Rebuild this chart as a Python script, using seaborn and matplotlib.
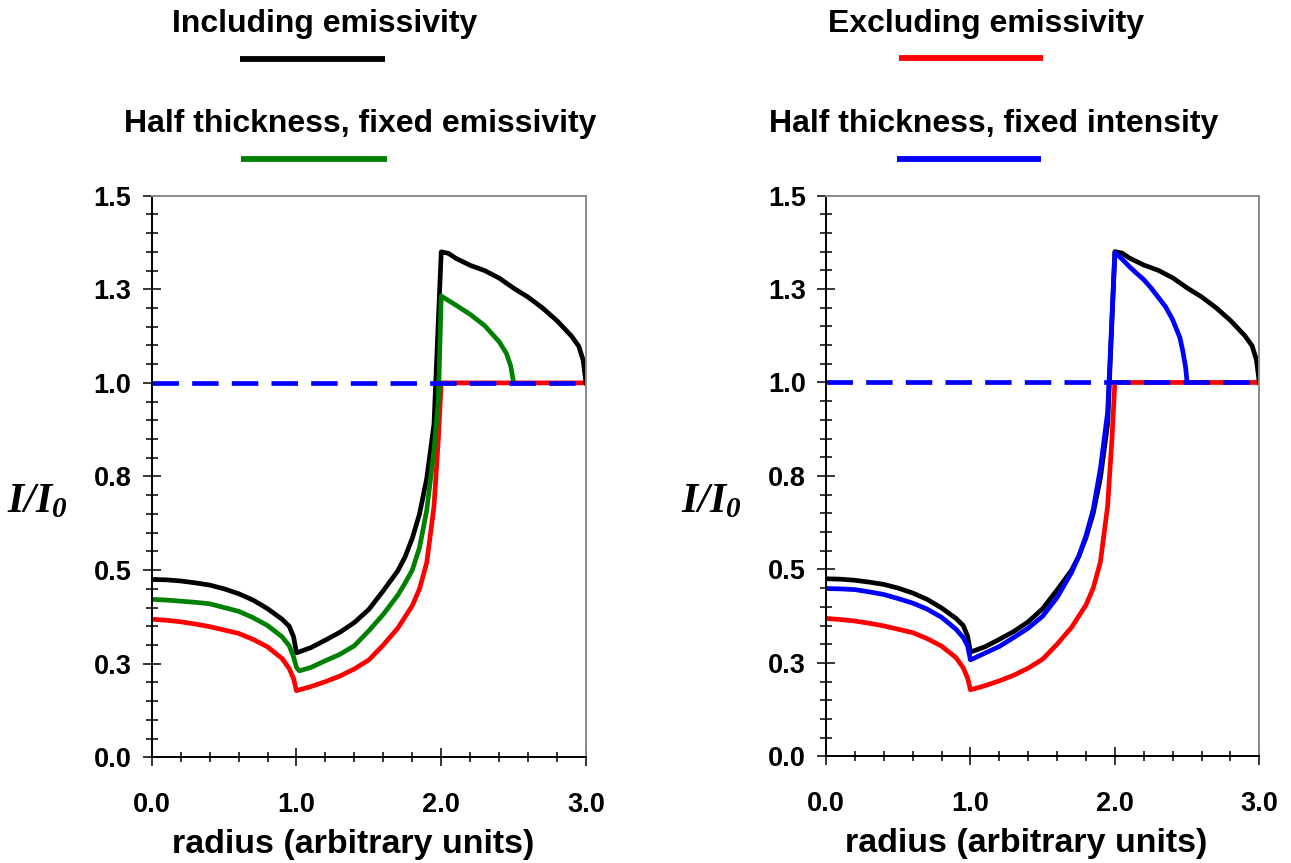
import matplotlib
matplotlib.use('Agg')
import matplotlib.pyplot as plt
from matplotlib.lines import Line2D
from matplotlib.ticker import MultipleLocator
import seaborn as sns

# values
black_x = [0.0, 0.1, 0.2, 0.3, 0.4, 0.5, 0.6, 0.7, 0.8, 0.9, 0.95, 0.98, 1.0,
           1.1, 1.2, 1.3, 1.4, 1.5, 1.6, 1.7, 1.75, 1.8, 1.85, 1.9, 1.95,
           2.0, 2.05, 2.1, 2.2, 2.3, 2.4, 2.5, 2.6, 2.7, 2.8, 2.9, 2.95, 2.98, 3.0]
black_y = [0.475, 0.474, 0.471, 0.466, 0.460, 0.450, 0.437, 0.420, 0.397, 0.369, 0.350, 0.322, 0.279,
           0.293, 0.313, 0.334, 0.360, 0.395, 0.445, 0.498, 0.535, 0.585, 0.650, 0.745, 0.890,
           1.350, 1.346, 1.333, 1.314, 1.300, 1.280, 1.253, 1.229, 1.200, 1.166, 1.125, 1.098, 1.061, 1.000]

green_x = [0.0, 0.1, 0.2, 0.3, 0.4, 0.5, 0.6, 0.7, 0.8, 0.9, 0.95, 0.98, 1.0, 1.02,
           1.1, 1.2, 1.3, 1.4, 1.5, 1.6, 1.7, 1.75, 1.8, 1.85, 1.9, 1.95, 1.98,
           2.0, 2.1, 2.2, 2.3, 2.4, 2.45, 2.48, 2.5]
green_y = [0.422, 0.420, 0.417, 0.414, 0.410, 0.400, 0.390, 0.373, 0.352, 0.322, 0.298, 0.268, 0.240, 0.231,
           0.240, 0.258, 0.275, 0.298, 0.338, 0.382, 0.433, 0.465, 0.500, 0.560, 0.660, 0.820, 0.950,
           1.232, 1.208, 1.183, 1.153, 1.110, 1.079, 1.045, 1.000]

red_x = [0.0, 0.1, 0.2, 0.3, 0.4, 0.5, 0.6, 0.7, 0.8, 0.9, 0.95, 0.98, 1.0,
         1.1, 1.2, 1.3, 1.4, 1.5, 1.6, 1.7, 1.75, 1.8, 1.85, 1.9, 1.95, 1.98, 2.0, 3.0]
red_y = [0.369, 0.366, 0.362, 0.356, 0.349, 0.340, 0.331, 0.315, 0.295, 0.264, 0.237, 0.210, 0.178,
         0.189, 0.202, 0.217, 0.236, 0.260, 0.300, 0.345, 0.375, 0.405, 0.450, 0.520, 0.670, 0.850, 1.000, 1.000]

blue_x = [0.0, 0.1, 0.2, 0.3, 0.4, 0.5, 0.6, 0.7, 0.8, 0.9, 0.95, 0.98, 1.0,
          1.1, 1.2, 1.3, 1.4, 1.5, 1.6, 1.7, 1.75, 1.8, 1.85, 1.9, 1.95,
          2.0, 2.05, 2.1, 2.15, 2.2, 2.25, 2.3, 2.35, 2.4, 2.45, 2.47, 2.49, 2.5]
blue_y = [0.449, 0.448, 0.446, 0.440, 0.433, 0.422, 0.410, 0.394, 0.372, 0.340, 0.318, 0.296, 0.258,
          0.276, 0.294, 0.318, 0.343, 0.375, 0.425, 0.492, 0.535, 0.590, 0.660, 0.770, 0.920,
          1.347, 1.330, 1.310, 1.292, 1.275, 1.253, 1.228, 1.203, 1.168, 1.120, 1.085, 1.040, 1.000]

ref_x = [0.0, 3.0]
ref_y = [1.0, 1.0]

xtick_vals = [0, 1, 2, 3]
xtick_labels = ['0.0', '1.0', '2.0', '3.0']
ytick_vals = [0, 0.25, 0.5, 0.75, 1.0, 1.25, 1.5]
ytick_labels = ['0.0', '0.3', '0.5', '0.8', '1.0', '1.3', '1.5']

left_titles = ['Including emissivity', 'Half thickness, fixed emissivity']
right_titles = ['Excluding emissivity', 'Half thickness, fixed intensity']

plt.rcParams['font.family'] = ['Liberation Sans', 'DejaVu Sans']
plt.rcParams['mathtext.fontset'] = 'custom'
plt.rcParams['mathtext.it'] = 'Liberation Serif:italic:bold'
plt.rcParams['mathtext.rm'] = 'Liberation Serif:italic:bold'

W, H = 1291, 863
fig = plt.figure(figsize=(W / 100, H / 100), dpi=100)
ax1 = fig.add_axes([151.7 / W, (H - 757.3) / H, 434.3 / W, 561.6 / H])
ax2 = fig.add_axes([826 / W, (H - 756.4) / H, 433.3 / W, 560.9 / H])

LW = 3.4
DASH = (0, (5.6, 2.8))


def style_axes(ax):
    ax.set_xlim(0, 3)
    ax.set_ylim(0, 1.5)
    ax.set_xticks(xtick_vals, labels=xtick_labels, fontsize=19.5, fontweight='bold')
    ax.set_yticks(ytick_vals, labels=ytick_labels, fontsize=19.5, fontweight='bold')
    ax.xaxis.set_minor_locator(MultipleLocator(0.2))
    ax.yaxis.set_minor_locator(MultipleLocator(0.05))
    ax.tick_params(axis='x', which='major', direction='inout', length=13.5, width=1.1, pad=18)
    ax.tick_params(axis='x', which='minor', direction='inout', length=7.5, width=1.1)
    ax.tick_params(axis='y', which='major', direction='inout', length=13, width=1.1, pad=8)
    ax.tick_params(axis='y', which='minor', direction='inout', length=8.5, width=1.1)
    for s in ['left', 'bottom']:
        ax.spines[s].set_color('black')
        ax.spines[s].set_linewidth(1.4)
    for s in ['top', 'right']:
        ax.spines[s].set_color('#8a8a8a')
        ax.spines[s].set_linewidth(1.4)
    ax.set_xlabel('radius (arbitrary units)', fontsize=24.5, fontweight='bold', labelpad=8)
    ax.xaxis.label.set_x(0.463)
    ax.set_ylabel(r'$I/I_0$', fontsize=30, rotation=0, ha='right', va='center')
    ax.yaxis.set_label_coords(-0.195, 0.455)


def curve(ax, xs, ys, c):
    sns.lineplot(x=xs, y=ys, color=c, linewidth=LW, sort=False, estimator=None, ax=ax)


# left panel
curve(ax1, red_x, red_y, '#ff0000')
curve(ax1, black_x, black_y, 'black')
curve(ax1, green_x, green_y, '#008000')
sns.lineplot(x=ref_x, y=ref_y, color='#0000ff', linewidth=LW, linestyle=DASH, ax=ax1)
style_axes(ax1)

# right panel
curve(ax2, red_x, red_y, '#ff0000')
curve(ax2, black_x, black_y, 'black')
curve(ax2, blue_x, blue_y, '#0000ff')
sns.lineplot(x=ref_x, y=ref_y, color='#0000ff', linewidth=LW, linestyle=DASH, ax=ax2)
style_axes(ax2)

# titles with their line keys
tkw = dict(ha='center', va='baseline', fontsize=23, fontweight='bold')
fig.text(324.5 / W, (H - 32) / H, left_titles[0], **tkw)
fig.text(360 / W, (H - 132) / H, left_titles[1], **tkw)
fig.text(985.5 / W, (H - 32) / H, right_titles[0], **tkw)
fig.text(994 / W, (H - 132) / H, right_titles[1], **tkw)

keys = [(240, 385, 59, 'black'), (241, 387, 159.5, '#008000'),
        (899, 1043, 58.5, '#ff0000'), (897, 1041, 159.5, '#0000ff')]
for x0, x1, yk, c in keys:
    fig.add_artist(Line2D([x0 / W, x1 / W], [(H - yk) / H, (H - yk) / H],
                          transform=fig.transFigure, color=c, lw=4.2, solid_capstyle='butt'))

plt.savefig('out.png', dpi=100)
